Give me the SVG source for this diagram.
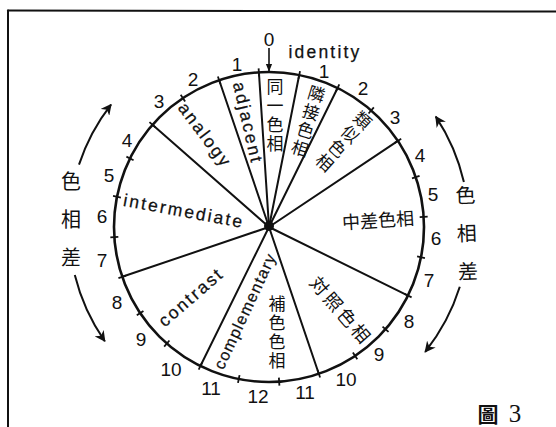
<svg xmlns="http://www.w3.org/2000/svg" xmlns:xlink="http://www.w3.org/1999/xlink" width="556" height="427" viewBox="0 0 556 427">
<defs>
<style>
.ln{stroke:#111;stroke-width:2;fill:none;stroke-linecap:round}
.circ{stroke:#111;stroke-width:2.6;fill:none}
.tk{stroke:#111;stroke-width:1.8}
.num{font-family:"Liberation Sans",Arial,sans-serif;font-size:19px;fill:#111;text-anchor:middle;dominant-baseline:central}
.en{font-family:"Liberation Sans",Arial,sans-serif;font-size:17.5px;fill:#111;text-anchor:middle;dominant-baseline:central;letter-spacing:2.2px;stroke:#111;stroke-width:0.25px}
.jp{font-family:"Noto Sans CJK JP","Noto Sans CJK SC",sans-serif;font-size:17px;fill:#111;text-anchor:middle;dominant-baseline:central}
.vt{font-family:"Noto Sans CJK JP","Noto Sans CJK SC",sans-serif;font-size:17px;fill:#111;text-anchor:middle;writing-mode:vertical-rl;text-orientation:upright;letter-spacing:2px}
.vb{font-family:"Noto Sans CJK JP","Noto Sans CJK SC",sans-serif;font-size:20px;fill:#111;text-anchor:middle;writing-mode:vertical-rl;text-orientation:upright;letter-spacing:18px}
.arr{stroke:#111;stroke-width:2;fill:none}
</style>
<marker id="ah" viewBox="0 0 10 10" refX="9" refY="5" markerWidth="5.5" markerHeight="5.5" orient="auto" markerUnits="strokeWidth">
<path d="M0,0 L10,5 L0,10 L3,5 Z" fill="#111"/>
</marker>
<marker id="ah0" viewBox="0 0 10 10" refX="9" refY="5" markerWidth="5" markerHeight="5" orient="auto" markerUnits="strokeWidth">
<path d="M0,1 L10,5 L0,9 Z" fill="#111"/>
</marker>
<line id="tick" x1="0" y1="-151" x2="0" y2="-159" class="tk"/>
</defs>
<rect width="556" height="427" fill="#fff"/>
<g id="frame">
<line x1="8" y1="10.5" x2="556" y2="11.5" class="ln"/>
<line x1="8" y1="10.5" x2="8" y2="427" class="ln"/>
</g>
<g id="wheel">
<circle cx="269" cy="227" r="155" class="circ"/>
<g transform="translate(269,227)">
<use xlink:href="#tick" transform="rotate(11.25)"/><use xlink:href="#tick" transform="rotate(26.25)"/><use xlink:href="#tick" transform="rotate(41.25)"/><use xlink:href="#tick" transform="rotate(56.25)"/><use xlink:href="#tick" transform="rotate(71.25)"/><use xlink:href="#tick" transform="rotate(86.25)"/><use xlink:href="#tick" transform="rotate(101.25)"/><use xlink:href="#tick" transform="rotate(116.25)"/><use xlink:href="#tick" transform="rotate(131.25)"/><use xlink:href="#tick" transform="rotate(146.25)"/><use xlink:href="#tick" transform="rotate(161.25)"/><use xlink:href="#tick" transform="rotate(176.25)"/><use xlink:href="#tick" transform="rotate(191.25)"/><use xlink:href="#tick" transform="rotate(206.25)"/><use xlink:href="#tick" transform="rotate(221.25)"/><use xlink:href="#tick" transform="rotate(236.25)"/><use xlink:href="#tick" transform="rotate(251.25)"/><use xlink:href="#tick" transform="rotate(266.25)"/><use xlink:href="#tick" transform="rotate(281.25)"/><use xlink:href="#tick" transform="rotate(296.25)"/><use xlink:href="#tick" transform="rotate(311.25)"/><use xlink:href="#tick" transform="rotate(326.25)"/><use xlink:href="#tick" transform="rotate(341.25)"/><use xlink:href="#tick" transform="rotate(356.25)"/>
</g>
</g>
<g id="connectors">
<line x1="269" y1="227" x2="258.9" y2="72.3" class="ln"/>
<line x1="269" y1="227" x2="299.2" y2="75" class="ln"/>
<line x1="269" y1="227" x2="337.6" y2="88" class="ln"/>
<line x1="269" y1="227" x2="397.9" y2="140.9" class="ln"/>
<line x1="269" y1="227" x2="408" y2="295.6" class="ln"/>
<line x1="269" y1="227" x2="318.8" y2="373.8" class="ln"/>
<line x1="269" y1="227" x2="200.4" y2="366" class="ln"/>
<line x1="269" y1="227" x2="122.2" y2="276.8" class="ln"/>
<line x1="269" y1="227" x2="152.5" y2="124.8" class="ln"/>
<line x1="269" y1="227" x2="219.2" y2="80.2" class="ln"/>
<circle cx="269" cy="226" r="5" fill="#111"/>
<line x1="269" y1="48" x2="269" y2="71" stroke="#111" stroke-width="1.6" marker-end="url(#ah0)"/>
<path d="M79,164.6 A200,200 0 0 1 111,104.6" class="arr" marker-end="url(#ah)"/>
<path d="M74.8,275 A200,200 0 0 0 104.8,341.2" class="arr" marker-end="url(#ah)"/>
<path d="M463.9,182 A200,200 0 0 0 435.8,116.6" class="arr" marker-end="url(#ah)"/>
<path d="M459.8,286.8 A200,200 0 0 1 425.2,351.8" class="arr" marker-end="url(#ah)"/>
</g>
<g id="numbers">
<text class="num" x="269" y="39">0</text>
<text class="num" x="324" y="71">1</text>
<text class="num" x="363" y="88">2</text>
<text class="num" x="395" y="117">3</text>
<text class="num" x="420" y="155">4</text>
<text class="num" x="433" y="194">5</text>
<text class="num" x="436" y="238">6</text>
<text class="num" x="429" y="280">7</text>
<text class="num" x="409" y="321">8</text>
<text class="num" x="379" y="354">9</text>
<text class="num" x="346" y="379">10</text>
<text class="num" x="305" y="392">11</text>
<text class="num" x="258" y="396">12</text>
<text class="num" x="211" y="388">11</text>
<text class="num" x="171" y="369">10</text>
<text class="num" x="141" y="339">9</text>
<text class="num" x="117" y="302">8</text>
<text class="num" x="102" y="260">7</text>
<text class="num" x="102" y="216">6</text>
<text class="num" x="109" y="175">5</text>
<text class="num" x="127" y="140">4</text>
<text class="num" x="159" y="101">3</text>
<text class="num" x="193" y="79">2</text>
<text class="num" x="237" y="64">1</text>
</g>
<g id="identity"><text class="en" x="325" y="52">identity</text></g>
<g id="adjacent"><text class="en" transform="translate(248,123) rotate(77)">adjacent</text></g>
<g id="analogy"><text class="en" transform="translate(205,135) rotate(53)">analogy</text></g>
<g id="intermediate"><text class="en" transform="translate(184,211) rotate(10.5)">intermediate</text></g>
<g id="contrast"><text class="en" transform="translate(191,297) rotate(-41)">contrast</text></g>
<g id="complementary"><text class="en" style="font-size:16px;letter-spacing:1.3px" transform="translate(245,311) rotate(-65)">complementary</text></g>
<g id="doitsu"><text class="vt" x="275" y="116">同一色相</text></g>
<g id="rinsetsu"><text class="vt" transform="translate(308,122) rotate(17)" x="0" y="0">隣接色相</text></g>
<g id="ruiji"><text class="vt" transform="translate(343,142) rotate(42)" x="0" y="0">類似色相</text></g>
<g id="chusa"><text class="jp" style="font-size:18px" transform="translate(378,219) rotate(-3.75)">中差色相</text></g>
<g id="taisho"><text class="jp" style="font-size:18px;letter-spacing:3px" transform="translate(342,310) rotate(49)">対照色相</text></g>
<g id="hoshoku"><text class="vt" x="277" y="333">補色色相</text></g>
<g id="shikisousa-left"><text class="vb" x="71" y="228">色相差</text></g>
<g id="shikisousa-right"><text class="vb" transform="translate(467,242) rotate(-2)" x="0" y="0">色相差</text></g>
<g id="caption">
<text x="488" y="413" style="font-family:'Noto Sans CJK TC','Noto Sans CJK JP',sans-serif;font-size:21px;font-weight:700;fill:#111;text-anchor:middle;dominant-baseline:central">圖</text>
<text x="515" y="413" style="font-family:'Liberation Serif','Times New Roman',serif;font-size:25px;fill:#111;text-anchor:middle;dominant-baseline:central">3</text>
</g>
</svg>
